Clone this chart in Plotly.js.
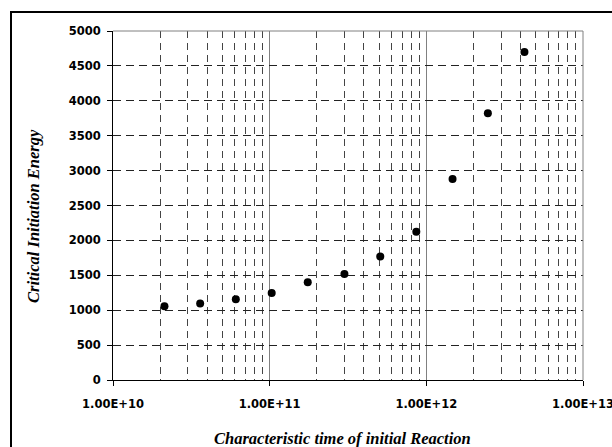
<!DOCTYPE html>
<html>
<head>
<meta charset="utf-8">
<script src="https://cdn.plot.ly/plotly-3.0.1.min.js"></script>
<style>
  html, body { margin: 0; padding: 0; background: #fff; overflow: hidden; }
  #frame { position: absolute; left: 10px; top: 11px; width: 640px; height: 480px; border: 2px solid #000; box-sizing: border-box; }
  #chart { position: absolute; left: 0; top: 0; width: 612px; height: 447px; }
</style>
</head>
<body>
<div id="frame"></div>
<div id="chart"></div>
<script>
// Characteristic time of initial reaction (x) vs critical initiation energy (y)
var charTime = [2.13e10, 3.6e10, 6.08e10, 1.03e11, 1.75e11, 3.0e11, 5.08e11, 8.63e11, 1.47e12, 2.47e12, 4.23e12];
var critEnergy = [1057, 1095, 1157, 1248, 1400, 1519, 1771, 2124, 2880, 3821, 4699];
var xTickVals = [1e10, 1e11, 1e12, 1e13];
var xTickText = ['1.00E+10', '1.00E+11', '1.00E+12', '1.00E+13'];
var yTickVals = [0, 500, 1000, 1500, 2000, 2500, 3000, 3500, 4000, 4500, 5000];
var xTitle = 'Characteristic time of initial Reaction';
var yTitle = 'Critical Initiation Energy';

var tickFont = {family: 'DejaVu Sans, sans-serif', size: 11.5, color: '#000', weight: 'bold'};
var titleFont = {family: 'Liberation Serif, Times New Roman, serif', size: 16.5, color: '#000', weight: 'bold', style: 'italic'};

var trace = {
  x: charTime,
  y: critEnergy,
  type: 'scatter',
  mode: 'markers',
  marker: {color: '#000', size: 8},
  hoverinfo: 'x+y'
};

var layout = {
  width: 612,
  height: 447,
  margin: {l: 113, r: 29, t: 31, b: 67},
  paper_bgcolor: 'rgba(0,0,0,0)',
  plot_bgcolor: '#fff',
  showlegend: false,
  xaxis: {
    type: 'log',
    range: [10, 13],
    tickvals: xTickVals,
    ticktext: xTickText,
    tickfont: tickFont,
    ticks: 'outside',
    ticklen: 5,
    tickcolor: '#000',
    ticklabelstandoff: 8,
    ticklabeloverflow: 'allow',
    showline: true,
    linecolor: '#000',
    linewidth: 1,
    showgrid: true,
    gridcolor: '#808080',
    gridwidth: 1,
    zeroline: false,
    minor: {
      dtick: 'D1',
      showgrid: true,
      gridcolor: '#444',
      gridwidth: 1,
      griddash: '7px,5px',
      ticks: ''
    }
  },
  yaxis: {
    range: [0, 5000],
    tickvals: yTickVals,
    tickfont: tickFont,
    ticks: 'outside',
    ticklen: 5,
    tickcolor: '#000',
    ticklabelstandoff: 4,
    showline: true,
    linecolor: '#000',
    linewidth: 1,
    showgrid: true,
    gridcolor: '#222',
    gridwidth: 1,
    griddash: '8px,5px',
    zeroline: false
  },
  shapes: [
    {type: 'line', xref: 'paper', yref: 'paper', x0: 0, x1: 1, y0: 1, y1: 1, line: {color: '#808080', width: 1}},
    {type: 'line', xref: 'paper', yref: 'paper', x0: 1, x1: 1, y0: 0, y1: 1, line: {color: '#808080', width: 1}}
  ],
  annotations: [
    {text: xTitle, xref: 'paper', yref: 'paper', x: (342 - 113) / 470, y: (380 - 439) / 349,
     xanchor: 'center', yanchor: 'middle', showarrow: false, font: titleFont},
    {text: yTitle, xref: 'paper', yref: 'paper', x: (33 - 113) / 470, y: (380 - 216) / 349,
     xanchor: 'center', yanchor: 'middle', textangle: -90, showarrow: false, font: titleFont}
  ]
};

Plotly.newPlot('chart', [trace], layout, {displayModeBar: false, staticPlot: true});
</script>
</body>
</html>
